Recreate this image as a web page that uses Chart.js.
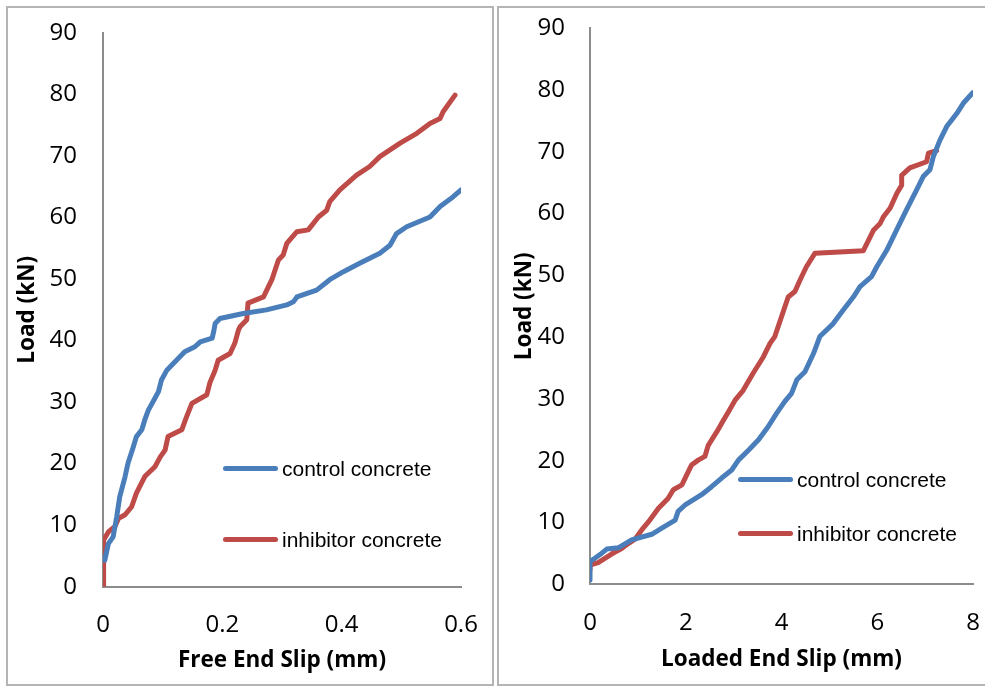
<!DOCTYPE html>
<html>
<head>
<meta charset="utf-8">
<script src="https://cdn.jsdelivr.net/npm/chart.js@4.4.1/dist/chart.umd.min.js"></script>
<style>
  body { margin: 0; background: #fff; width: 985px; height: 687px; overflow: hidden; position: relative; }
  .panel { position: absolute; box-sizing: border-box; border: 2px solid #b4b4b4; }
  canvas { position: absolute; }
  .leg { position: absolute; font-family: "Liberation Sans", Arial, sans-serif; font-size: 21px; color: #000; white-space: nowrap; }
  .leg span { display: inline-block; width: 55px; height: 5px; border-radius: 3px; vertical-align: middle; margin-right: 4px; position: relative; top: -2px; }
</style>
</head>
<body>
<div class="panel" style="left:6px;top:6px;width:488px;height:680px;"></div>
<div class="panel" style="left:497px;top:6px;width:495px;height:680px;"></div>
<canvas id="freeChart" width="487" height="678" style="left:6px;top:7px;"></canvas>
<canvas id="loadedChart" width="487" height="678" style="left:498px;top:7px;"></canvas>

<div class="leg" style="left:223px;top:457px;"><span style="background:#4a7ebb"></span>control concrete</div>
<div class="leg" style="left:223px;top:528px;"><span style="background:#be4b48"></span>inhibitor concrete</div>
<div class="leg" style="left:738px;top:468px;"><span style="background:#4a7ebb"></span>control concrete</div>
<div class="leg" style="left:738px;top:522px;"><span style="background:#be4b48"></span>inhibitor concrete</div>

<script>
// Datos: deslizamiento (mm) y carga (kN)
const yTicks = [0, 10, 20, 30, 40, 50, 60, 70, 80, 90];

// Free end slip
const freeControlSlip = [0.003, 0.009, 0.017, 0.023, 0.028, 0.037, 0.042, 0.051, 0.056, 0.065, 0.070, 0.076, 0.084, 0.093, 0.098, 0.107, 0.115, 0.126, 0.137, 0.154, 0.163, 0.183, 0.186, 0.188, 0.196, 0.235, 0.274, 0.308, 0.319, 0.325, 0.358, 0.380, 0.403, 0.431, 0.464, 0.481, 0.492, 0.509, 0.548, 0.565, 0.587, 0.600];
const freeControlLoad = [4.3, 7.0, 8.1, 11.4, 14.6, 17.9, 20.1, 22.8, 24.4, 25.5, 27.1, 28.7, 30.1, 31.7, 33.6, 35.2, 36.0, 37.1, 38.2, 39.0, 39.8, 40.4, 41.7, 42.8, 43.6, 44.4, 45.0, 45.8, 46.3, 47.1, 48.2, 49.9, 51.2, 52.6, 54.2, 55.5, 57.4, 58.5, 60.1, 61.8, 63.4, 64.5];

const freeInhibSlip = [0, 0.001, 0.009, 0.020, 0.026, 0.037, 0.048, 0.056, 0.070, 0.087, 0.096, 0.104, 0.109, 0.132, 0.140, 0.149, 0.174, 0.179, 0.188, 0.193, 0.213, 0.221, 0.227, 0.230, 0.241, 0.243, 0.269, 0.283, 0.294, 0.302, 0.308, 0.325, 0.344, 0.361, 0.375, 0.380, 0.397, 0.425, 0.447, 0.464, 0.498, 0.526, 0.548, 0.565, 0.570, 0.590];
const freeInhibLoad = [0, 7.6, 8.9, 9.8, 11.1, 11.7, 13.0, 15.2, 17.9, 19.5, 21.1, 22.2, 24.4, 25.5, 27.6, 29.8, 31.2, 33.1, 35.2, 36.8, 37.9, 39.6, 41.7, 42.3, 43.4, 46.1, 47.1, 49.9, 53.1, 53.9, 55.8, 57.7, 58.0, 60.1, 61.2, 62.6, 64.5, 66.9, 68.3, 69.9, 72.1, 73.7, 75.3, 76.1, 77.2, 79.9];

// Loaded end slip
const loadedControlSlip = [0, 0, 0.10, 0.24, 0.35, 0.59, 0.87, 1.29, 1.50, 1.78, 1.84, 1.98, 2.33, 2.54, 2.75, 2.96, 3.10, 3.31, 3.52, 3.72, 3.90, 4.07, 4.21, 4.32, 4.49, 4.67, 4.80, 5.08, 5.29, 5.50, 5.64, 5.88, 5.99, 6.20, 6.40, 6.61, 6.82, 6.96, 7.10, 7.17, 7.31, 7.45, 7.66, 7.80, 8.00];
const loadedControlLoad = [0.7, 3.7, 4.2, 5.0, 5.7, 5.9, 7.2, 8.1, 9.1, 10.4, 11.8, 12.8, 14.5, 15.8, 17.2, 18.5, 20.1, 21.7, 23.4, 25.5, 27.7, 29.6, 30.9, 33.1, 34.4, 37.4, 40.1, 42.2, 44.4, 46.5, 48.2, 49.8, 51.4, 54.1, 57.3, 60.6, 63.8, 66.0, 67.1, 69.2, 71.9, 74.1, 76.2, 77.9, 79.6];

const loadedInhibSlip = [0, 0, 0.17, 0.31, 0.45, 0.66, 0.80, 0.94, 1.08, 1.22, 1.43, 1.63, 1.74, 1.92, 2.02, 2.12, 2.26, 2.40, 2.47, 2.65, 2.79, 2.89, 3.03, 3.20, 3.41, 3.62, 3.76, 3.86, 4.00, 4.14, 4.28, 4.39, 4.52, 4.70, 5.71, 5.92, 6.06, 6.13, 6.27, 6.41, 6.51, 6.51, 6.68, 7.03, 7.07, 7.24];
const loadedInhibLoad = [2.3, 3.1, 3.5, 4.2, 4.9, 5.8, 6.6, 7.3, 8.8, 10.1, 12.3, 13.9, 15.3, 16.1, 17.7, 19.3, 20.1, 20.7, 22.5, 24.7, 26.6, 27.9, 29.8, 31.4, 34.2, 36.8, 39.0, 40.1, 43.3, 46.5, 47.4, 49.3, 51.4, 53.6, 54.0, 57.3, 58.4, 59.5, 60.9, 63.3, 64.6, 66.2, 67.4, 68.4, 69.8, 70.2];

const blue = '#4a7ebb';
const red = '#be4b48';

function toPoints(xs, ys) {
    return xs.map((x, i) => ({ x: x, y: ys[i] }));
}

// Quitar el relleno automático de las escalas para controlar el área del gráfico
function noPadding(axis) {
    axis.paddingTop = 0;
    axis.paddingBottom = 0;
    axis.paddingLeft = 0;
    axis.paddingRight = 0;
}

// Opciones comunes para ambos gráficos
function buildOptions(cfg) {
    return {
        responsive: false,
        animation: false,
        layout: { padding: { top: cfg.top, right: cfg.right, left: 0, bottom: 0 } },
        plugins: { legend: { display: false }, tooltip: { enabled: false } },
        elements: { point: { radius: 0 }, line: { tension: 0, borderWidth: 5, borderCapStyle: 'round', borderJoinStyle: 'round' } },
        scales: {
            x: {
                type: 'linear',
                min: 0,
                max: cfg.xMax,
                afterBuildTicks: axis => { axis.ticks = cfg.xTicks.map(v => ({ value: v })); },
                afterFit: axis => { axis.height = cfg.xHeight; noPadding(axis); },
                grid: { display: false, drawTicks: false },
                border: { display: true, color: '#8c8c8c', width: 2 },
                ticks: {
                    padding: 24,
                    color: '#000',
                    font: { family: '"Open Sans", sans-serif', size: 24 },
                    callback: v => String(v)
                },
                title: {
                    display: true,
                    text: cfg.xTitle,
                    color: '#000',
                    font: { family: '"Open Sans", sans-serif', size: 22.5, weight: 'bold' },
                    padding: { top: 0, bottom: cfg.xTitlePad }
                }
            },
            y: {
                min: 0,
                max: 90,
                afterBuildTicks: axis => { axis.ticks = yTicks.map(v => ({ value: v })); },
                afterFit: axis => { axis.width = cfg.yWidth; noPadding(axis); },
                grid: { display: false, drawTicks: false },
                border: { display: true, color: '#8c8c8c', width: 2 },
                ticks: {
                    padding: cfg.yPad,
                    color: '#000',
                    font: { family: '"Open Sans", sans-serif', size: 24 }
                },
                title: {
                    display: true,
                    text: 'Load (kN)',
                    color: '#000',
                    font: { family: '"Open Sans", sans-serif', size: 22.5, weight: 'bold' },
                    padding: { top: cfg.yTitlePad, bottom: 0 }
                }
            }
        }
    };
}

// Gráfico de deslizamiento del extremo libre
const freeChart = new Chart(document.getElementById('freeChart'), {
    type: 'line',
    data: {
        datasets: [
            { label: 'control concrete', data: toPoints(freeControlSlip, freeControlLoad), borderColor: blue, backgroundColor: blue },
            { label: 'inhibitor concrete', data: toPoints(freeInhibSlip, freeInhibLoad), borderColor: red, backgroundColor: red }
        ]
    },
    options: buildOptions({
        top: 26, right: 32, xMax: 0.6, xTicks: [0, 0.2, 0.4, 0.6],
        xHeight: 98.3, yWidth: 97, yPad: 26, xTitle: 'Free End Slip (mm)', xTitlePad: 10.5, yTitlePad: 8.5
    })
});

// Gráfico de deslizamiento del extremo cargado
const loadedChart = new Chart(document.getElementById('loadedChart'), {
    type: 'line',
    data: {
        datasets: [
            { label: 'control concrete', data: toPoints(loadedControlSlip, loadedControlLoad), borderColor: blue, backgroundColor: blue },
            { label: 'inhibitor concrete', data: toPoints(loadedInhibSlip, loadedInhibLoad), borderColor: red, backgroundColor: red }
        ]
    },
    options: buildOptions({
        top: 21.3, right: 12, xMax: 8, xTicks: [0, 2, 4, 6, 8],
        xHeight: 100.7, yWidth: 92, yPad: 25, xTitle: 'Loaded End Slip (mm)', xTitlePad: 12.2, yTitlePad: 13.5
    })
});
</script>
</body>
</html>
